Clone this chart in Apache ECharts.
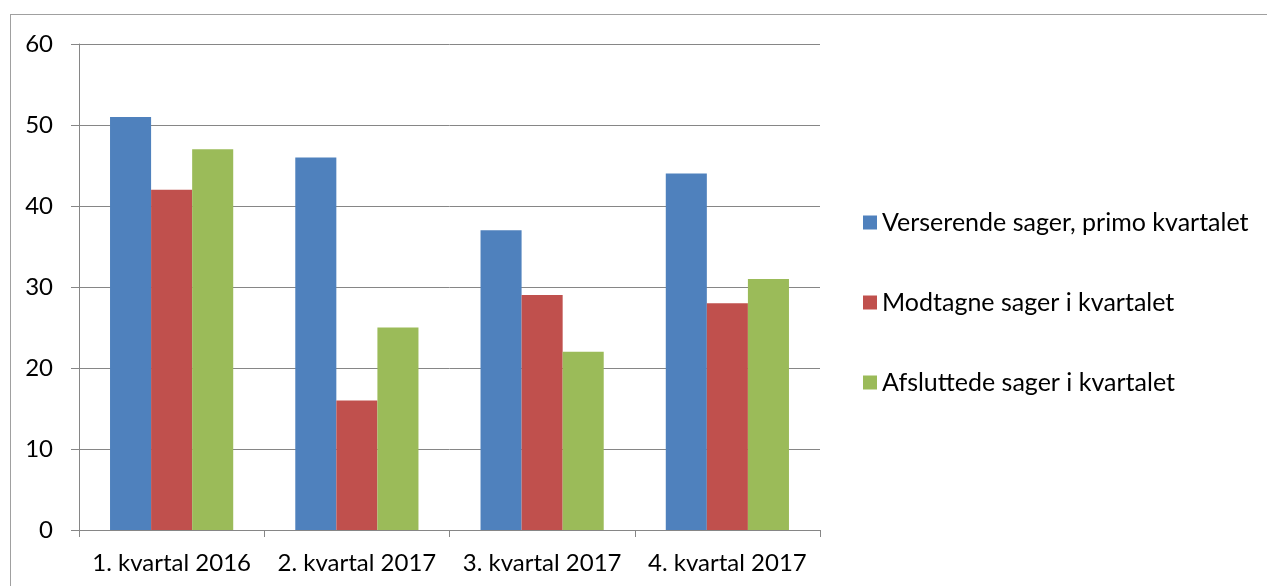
<!DOCTYPE html>
<html>
<head>
<meta charset="utf-8">
<script src="https://cdn.jsdelivr.net/npm/echarts@6/dist/echarts.min.js"></script>
<style>
  html, body { margin: 0; padding: 0; background: #fff; overflow: hidden; }
  #frame { position: absolute; left: 10px; top: 14px; width: 1400px; height: 700px; border: 1px solid #a0a0a0; }
  #chart { position: absolute; left: 0; top: 0; width: 1267px; height: 586px; }
</style>
</head>
<body>
<div id="frame"></div>
<div id="chart"></div>
<script>
const categories = ["1. kvartal 2016", "2. kvartal 2017", "3. kvartal 2017", "4. kvartal 2017"];
const verserende = [51, 46, 37, 44];
const modtagne = [42, 16, 29, 28];
const afsluttede = [47, 25, 22, 31];
const seriesNames = ["Verserende sager, primo kvartalet", "Modtagne sager i kvartalet", "Afsluttede sager i kvartalet"];
const colors = ["#4F81BD", "#C0504D", "#9BBB59"];

const chart = echarts.init(document.getElementById("chart"));
const font = "Lato, 'Open Sans', sans-serif";

const option = {
  animation: false,
  textStyle: { fontFamily: font },
  grid: { left: 79, right: 447, top: 44, bottom: 56 },
  legend: {
    orient: "vertical",
    left: 858,
    top: 205,
    itemWidth: 14,
    itemHeight: 14,
    itemGap: 55,
    icon: "rect",
    textStyle: { fontSize: 25, color: "#000", fontFamily: font },
    data: seriesNames
  },
  xAxis: {
    type: "category",
    data: categories,
    axisLine: { lineStyle: { color: "#868686" } },
    axisTick: { show: true, length: 7, lineStyle: { color: "#868686" } },
    axisLabel: { interval: 0, fontSize: 24, color: "#000", margin: 21, fontFamily: font }
  },
  yAxis: {
    type: "value",
    min: 0,
    max: 60,
    interval: 10,
    axisLine: { show: true, lineStyle: { color: "#868686" } },
    axisTick: { show: true, length: 8, lineStyle: { color: "#868686" } },
    splitLine: { lineStyle: { color: "#868686" } },
    axisLabel: { fontSize: 24, color: "#000", margin: 26, fontFamily: font }
  },
  series: [
    { name: seriesNames[0], type: "bar", data: verserende, itemStyle: { color: colors[0] }, barGap: "0%", barCategoryGap: "33.5%" },
    { name: seriesNames[1], type: "bar", data: modtagne, itemStyle: { color: colors[1] } },
    { name: seriesNames[2], type: "bar", data: afsluttede, itemStyle: { color: colors[2] } }
  ]
};

chart.setOption(option);
</script>
</body>
</html>
